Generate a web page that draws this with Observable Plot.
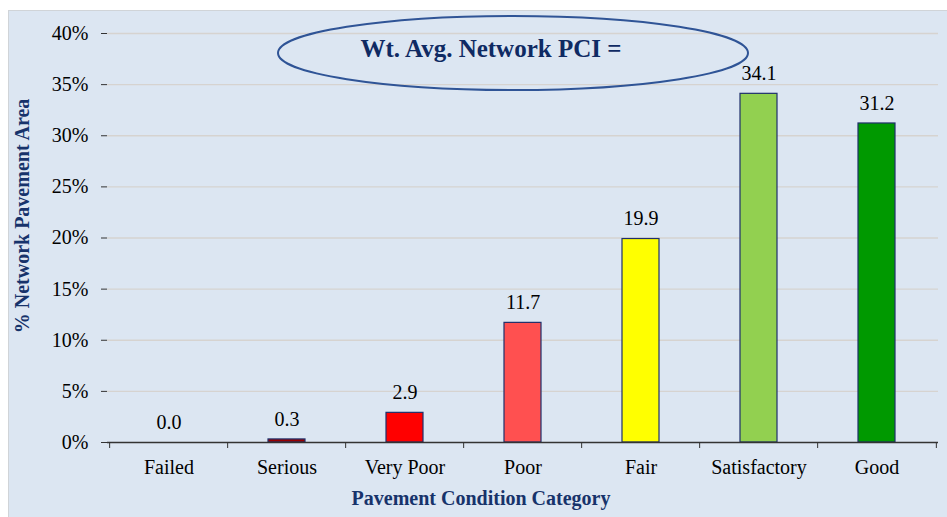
<!DOCTYPE html>
<html>
<head>
<meta charset="utf-8">
<script src="https://cdn.jsdelivr.net/npm/d3@7"></script>
<script src="https://cdn.jsdelivr.net/npm/@observablehq/plot@0.6"></script>
<style>
  html, body { margin: 0; padding: 0; background: #ffffff; }
  #wrap { position: relative; width: 947px; height: 517px; overflow: hidden; }
  #bg { position: absolute; left: 8px; top: 10px; width: 939px; height: 507px; background: #dce6f2; border-top: 1px solid #d0d4d8; border-left: 1px solid #d0d4d8; }
  #chart { position: absolute; left: 0; top: 0; }
  #chart svg { background: transparent; overflow: visible; }
  #chart svg text { font-family: 'Liberation Serif', 'Times New Roman', serif; }
</style>
</head>
<body>
<div id="wrap"><div id="bg"></div><div id="chart"></div></div>
<script>
const categories = ["Failed", "Serious", "Very Poor", "Poor", "Fair", "Satisfactory", "Good"];
const values = [0.0, 0.3, 2.9, 11.7, 19.9, 34.1, 31.2];
const colors = ["#c00000", "#990000", "#ff0000", "#ff5050", "#ffff00", "#92d050", "#009900"];
const yTicks = [0, 5, 10, 15, 20, 25, 30, 35, 40];
const title = "Wt. Avg. Network PCI =";
const yLabel = "% Network Pavement Area";
const xLabel = "Pavement Condition Category";

const data = categories.map((c, i) => ({category: c, value: values[i], color: colors[i]}));

const W = 947, H = 517;
const mL = 107, mR = 9, mT = 33, mB = 75;
const step = (W - mL - mR) / categories.length;
const serif = "'Liberation Serif', 'Times New Roman', serif";
const navy = "#17336b";

const chart = Plot.plot({
  width: W,
  height: H,
  marginLeft: mL,
  marginRight: mR,
  marginTop: mT,
  marginBottom: mB,
  style: {fontFamily: serif, fontSize: "20px", color: "#000", background: "transparent"},
  x: {domain: categories, paddingInner: 0.69, paddingOuter: 0.345, label: null},
  y: {domain: [0, 40], label: null},
  color: {type: "identity"},
  marks: [
    Plot.gridY(yTicks.filter(d => d > 0), {stroke: "#d6d3d0", strokeOpacity: 1, strokeWidth: 1.3}),
    Plot.barY(data.filter(d => d.value > 0), {x: "category", y: "value", fill: "color", stroke: "#1f2f6b", strokeWidth: 1.2}),
    Plot.text(data, {x: "category", y: "value", text: d => d.value.toFixed(1), dy: -20, fontSize: 20, fill: "#000", fontFamily: serif}),
    Plot.ruleY([0], {stroke: "#333", strokeWidth: 1.3}),
    Plot.ruleX([0], {frameAnchor: "left", stroke: "#333", strokeWidth: 1.3}),
    Plot.axisY({ticks: yTicks, tickSize: 6, tickPadding: 13, tickFormat: d => d + "%", fontSize: 20, fontFamily: serif, stroke: "#333", label: null}),
    Plot.axisX({tickSize: 0, tickPadding: 17, fontSize: 20, fontFamily: serif, label: null}),
    Plot.axisX({tickSize: 6, text: null, dx: -step / 2, stroke: "#333", label: null}),
    Plot.axisX({ticks: [categories[categories.length - 1]], tickSize: 6, text: null, dx: step / 2, stroke: "#333", label: null}),
    Plot.text([yLabel], {frameAnchor: "left", textAnchor: "middle", rotate: -90, dx: -85, dy: -22, fontWeight: "bold", fontSize: 20, fontFamily: serif, fill: navy}),
    Plot.text([xLabel], {frameAnchor: "bottom", dy: 62, dx: -42, fontWeight: "bold", fontSize: 20, fontFamily: serif, fill: navy})
  ]
});

document.getElementById("chart").appendChild(chart);

// annotation ellipse with title
const svg = d3.select(chart);
const g = svg.append("g");
g.append("ellipse")
  .attr("cx", 513).attr("cy", 53).attr("rx", 235).attr("ry", 37)
  .attr("fill", "none").attr("stroke", "#2f5496").attr("stroke-width", 2);
g.append("text")
  .attr("x", 491).attr("y", 51)
  .attr("text-anchor", "middle").attr("dominant-baseline", "middle")
  .attr("font-family", serif).attr("font-weight", "bold").attr("font-size", 25)
  .attr("fill", "#0f2a63")
  .text(title);
</script>
</body>
</html>
